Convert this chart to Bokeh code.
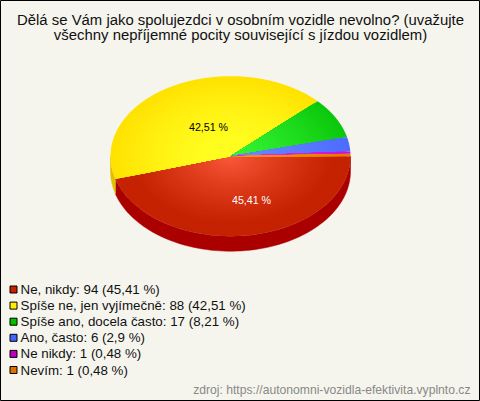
import numpy as np
from bokeh.plotting import figure
from bokeh.models import Range1d
from bokeh.core.properties import value
from bokeh.embed import file_html
from bokeh.resources import INLINE

title_lines = ["Dělá se Vám jako spolujezdci v osobním vozidle nevolno? (uvažujte",
               "všechny nepříjemné pocity související s jízdou vozidlem)"]
categories = ["Ne, nikdy", "Spíše ne, jen vyjímečně", "Spíše ano, docela často", "Ano, často", "Ne nikdy", "Nevím"]
counts = [94, 88, 17, 6, 1, 1]
percents = [45.41, 42.51, 8.21, 2.9, 0.48, 0.48]
percent_text = ["45,41", "42,51", "8,21", "2,9", "0,48", "0,48"]
source = "zdroj: https://autonomni-vozidla-efektivita.vyplnto.cz"

swatch = ["#c82000", "#ffee00", "#00c000", "#4466ff", "#c000c0", "#e07000"]
light = ["#ff5c3e", "#ffff22", "#36f536", "#6e8cff", "#f030f0", "#ff9a20"]
dark = ["#c42200", "#ffe200", "#0cc80c", "#4c6cff", "#d010d0", "#e87800"]
side = ["#aa0000", "#e0c000", "#00a000", "#3050d0", "#a000a0", "#c06000"]
reach = [0.85, 1.0, 1.0, 1.0, 1.0, 1.0]
power = [0.8, 1.6, 1.2, 1.0, 1.0, 1.0]

CX, CY, RX, RY, DEPTH = 230, 155.7, 120, 80, 15
W, H = 480, 401

p = figure(width=W, height=H, output_backend="svg", toolbar_location=None,
           x_range=Range1d(0, W), y_range=Range1d(H, 0),
           min_border=0, x_axis_type=None, y_axis_type=None,
           background_fill_color="#f5f5ee", border_fill_color="#f5f5ee",
           outline_line_color="#000000")
p.grid.visible = False


def hex2rgb(c):
    return np.array([int(c[i:i + 2], 16) for i in (1, 3, 5)], float)


def mix(a, b, t):
    v = hex2rgb(a) * (1 - t) + hex2rgb(b) * t
    return "#%02x%02x%02x" % tuple(int(round(x)) for x in v)


total = sum(percents)
edges = np.concatenate([[0], np.cumsum(percents)]) / total * 2 * np.pi

# side wall (only the front half of the rim is visible)
for i in range(len(percents)):
    a0, a1 = edges[i], min(edges[i + 1], np.pi)
    if a0 >= np.pi:
        continue
    th = np.linspace(a0, a1, 80)
    xs = CX + RX * np.cos(th)
    ys = CY + RY * np.sin(th)
    p.patch(np.r_[xs, xs[::-1]], np.r_[ys, ys[::-1] + DEPTH],
            fill_color=side[i], line_color=side[i], line_width=0.5)

# top surface, radial shading built from nested sectors
STEPS = 30
for i in range(len(percents)):
    th = np.linspace(edges[i], edges[i + 1], max(6, int(200 * (edges[i + 1] - edges[i]))))
    for k in range(STEPS, 0, -1):
        r = k / STEPS
        t = min(1.0, r / reach[i])
        col = mix(light[i], dark[i], t ** power[i])
        xs = np.r_[CX, CX + RX * r * np.cos(th)]
        ys = np.r_[CY, CY + RY * r * np.sin(th)]
        p.patch(xs, ys, fill_color=col, line_color=None)

# title
for y, line in zip([19.5, 34.5], title_lines):
    p.text([240], [y], text=[line], text_font=value("Liberation Sans"), text_font_size="14.9px",
           text_color="#111111", text_align="center", text_baseline="middle")

# value labels on the pie
p.text([208], [126], text=[percent_text[1] + " %"], text_font=value("Liberation Sans"), text_font_size="10.67px",
       text_color="#000000", text_align="center", text_baseline="middle")
p.text([251], [199], text=[percent_text[0] + " %"], text_font=value("Liberation Sans"), text_font_size="10.67px",
       text_color="#ffffff", text_align="center", text_baseline="middle")

# legend
for i, (c, n, pc) in enumerate(zip(categories, counts, percent_text)):
    y = 289 + 16.1 * i
    p.scatter([13], [y], marker="square", size=7, fill_color=swatch[i], line_color="#000000", line_width=1)
    p.text([20], [y], text=[f"{c}: {n} ({pc} %)"], text_font=value("Liberation Sans"), text_font_size="13.33px",
           text_color="#111111", text_align="left", text_baseline="middle")

# source
p.text([470], [389], text=[source], text_font=value("Liberation Sans"), text_font_size="12.15px",
       text_color="#888888", text_align="right", text_baseline="middle")

open("out.html", "w").write(file_html(p, INLINE))
